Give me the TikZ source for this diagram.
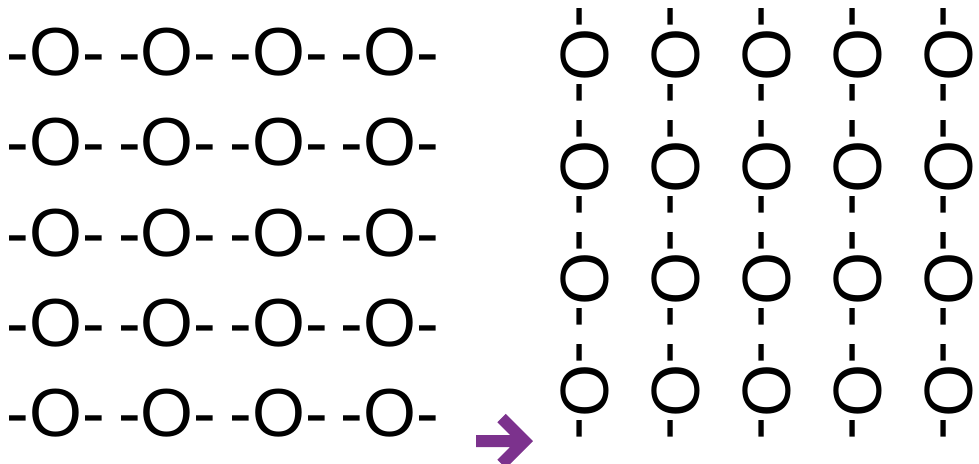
\documentclass[tikz,border=0pt]{standalone}
\usepackage{fontspec}
\usepackage{xcolor}
\usetikzlibrary{positioning}
\newfontfamily\grainfont{Liberation Sans}
\definecolor{arrowpurple}{RGB}{124,50,141}

\begin{document}
\begin{tikzpicture}[x=1pt,y=-1pt,
                    grain/.style={inner sep=0pt,font=\grainfont\fontsize{68}{68}\selectfont},
                    turned/.style={grain,rotate=-90}]
\useasboundingbox (0,0) rectangle (979,463);

%Chains lying flat on the left
 \foreach \x in {0,...,3}
    \foreach \y in {0,...,4}
       \node [grain] (L\x\y) at (56+111.3*\x,52+90.3*\y) {-O-};

%Chains standing up on the right
 \foreach \x in {0,...,4}
    \foreach \y in {0,...,3}
       \node [turned] (R\x\y) at (585+91*\x,55+112*\y) {-O-};

%Arrow in between
 \coordinate (tail) at (476,441);
 \coordinate (tip) at (524.5,441);
 \coordinate (headtop) at (501.5,418);
 \coordinate (headbot) at (501.5,464);
 \draw[arrowpurple,line width=12] (tail) -- (tip) (headtop) -- (tip) -- (headbot);

\end{tikzpicture}
\end{document}
